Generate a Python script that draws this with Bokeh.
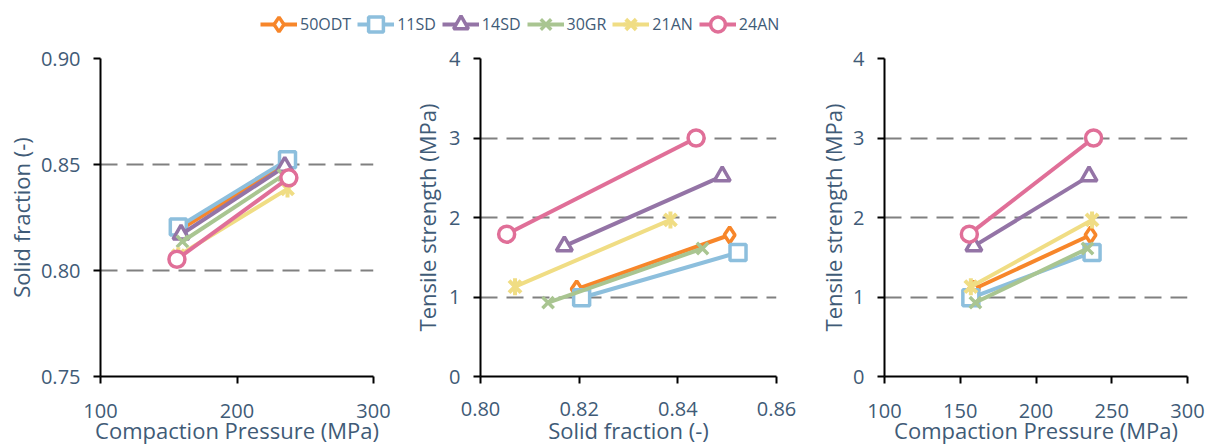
import math
from bokeh.plotting import figure
from bokeh.models import Range1d, FixedTicker, Legend, LegendItem, NumeralTickFormatter
from bokeh.layouts import column, row
from bokeh.embed import file_html
from bokeh.resources import INLINE

# ---- data ----
series = ["50ODT", "11SD", "14SD", "30GR", "21AN", "24AN"]
pressure_low = [159, 157, 159, 160, 157, 156]
pressure_high = [236, 237, 235, 234, 237, 238]
solid_low = [0.8195, 0.8205, 0.8170, 0.8137, 0.8070, 0.8053]
solid_high = [0.8505, 0.8522, 0.8490, 0.8450, 0.8385, 0.8437]
tensile_low = [1.10, 0.99, 1.64, 0.93, 1.13, 1.79]
tensile_high = [1.78, 1.56, 2.52, 1.61, 1.97, 3.00]

colors = ["#F7862A", "#8DBFDD", "#9474A6", "#A9C591", "#F0DD84", "#E06F98"]
markers = ["diamond", "square", "triangle", "x", "star", "circle"]

TEXT = "#3F5B77"
FONT = "Open Sans"


def style(p, lab_std, title_std_x, title_std_y):
    p.outline_line_color = None
    p.xgrid.visible = False
    p.ygrid.grid_line_color = "#808080"
    p.ygrid.grid_line_width = 2
    p.ygrid.grid_line_dash = "17 9"
    for ax in p.axis:
        ax.axis_line_color = "black"
        ax.axis_line_width = 2
        ax.major_tick_line_color = "black"
        ax.major_tick_line_width = 2
        ax.major_tick_out = 7
        ax.major_tick_in = 0
        ax.minor_tick_line_color = None
        ax.major_label_text_font = FONT
        ax.major_label_text_font_size = "20px"
        ax.major_label_text_color = TEXT
        ax.axis_label_text_font = FONT
        ax.axis_label_text_font_size = "22px"
        ax.axis_label_text_font_style = "normal"
        ax.axis_label_text_color = TEXT
        ax.major_label_standoff = 13
    p.xaxis.major_label_standoff = lab_std
    p.xaxis.axis_label_standoff = title_std_x
    p.yaxis.axis_label_standoff = title_std_y


def draw(p, xl, xh, yl, yh, msize=16):
    rends = []
    for i in range(len(series)):
        xs = [xl[i], xh[i]]
        ys = [yl[i], yh[i]]
        r_line = p.line(xs, ys, line_color=colors[i], line_width=4)
        group = [r_line]
        if series[i] == "21AN":
            r1 = p.scatter(xs, ys, marker="x", size=msize + 1, line_color=colors[i], line_width=4)
            r2 = p.scatter(xs, ys, marker="dash", size=msize + 1, angle=math.pi / 2,
                           line_color=colors[i], line_width=4)
            group += [r1, r2]
        else:
            r = p.scatter(xs, ys, marker=markers[i], size=msize, line_color=colors[i],
                          fill_color="white", line_width=3.5)
            group.append(r)
        rends.append(group)
    return rends


LEG_H = 44
ROW_H = 447 - LEG_H
TOP = 58 - LEG_H
BOTTOM = 447 - 378

# Panel 1: solid fraction vs pressure
p1 = figure(width=400, height=ROW_H, output_backend="svg", toolbar_location=None,
            x_range=Range1d(100, 300), y_range=Range1d(0.75, 0.90),
            min_border_left=100, min_border_right=27, min_border_top=TOP,
            min_border_bottom=BOTTOM,
            x_axis_label="Compaction Pressure (MPa)", y_axis_label="Solid fraction (-)")
p1.xaxis.ticker = FixedTicker(ticks=[100, 200, 300])
p1.yaxis.ticker = FixedTicker(ticks=[0.75, 0.80, 0.85, 0.90])
p1.yaxis.formatter = NumeralTickFormatter(format="0.00")
style(p1, 20, -6, 2)
draw(p1, pressure_low, pressure_high, solid_low, solid_high)

# Panel 2: tensile strength vs solid fraction
p2 = figure(width=400, height=ROW_H, output_backend="svg", toolbar_location=None,
            x_range=Range1d(0.80, 0.86), y_range=Range1d(0, 4),
            min_border_left=80, min_border_right=24, min_border_top=TOP,
            min_border_bottom=BOTTOM,
            x_axis_label="Solid fraction (-)", y_axis_label="Tensile strength (MPa)")
p2.xaxis.ticker = FixedTicker(ticks=[0.80, 0.82, 0.84, 0.86])
p2.xaxis.formatter = NumeralTickFormatter(format="0.00")
p2.yaxis.ticker = FixedTicker(ticks=[0, 1, 2, 3, 4])
style(p2, 18, -4, 4)
draw(p2, solid_low, solid_high, tensile_low, tensile_high)

# Panel 3: tensile strength vs pressure
p3 = figure(width=405, height=ROW_H, output_backend="svg", toolbar_location=None,
            x_range=Range1d(100, 300), y_range=Range1d(0, 4),
            min_border_left=84, min_border_right=18, min_border_top=TOP,
            min_border_bottom=BOTTOM,
            x_axis_label="Compaction Pressure (MPa)", y_axis_label="Tensile strength (MPa)")
p3.xaxis.ticker = FixedTicker(ticks=[100, 150, 200, 250, 300])
p3.yaxis.ticker = FixedTicker(ticks=[0, 1, 2, 3, 4])
style(p3, 20, -6, 2)
draw(p3, pressure_low, pressure_high, tensile_low, tensile_high)

# Legend strip
pl = figure(width=1205, height=LEG_H, output_backend="svg", toolbar_location=None,
            x_range=Range1d(0, 1), y_range=Range1d(0, 1),
            x_axis_location=None, y_axis_location=None, min_border=0)
pl.outline_line_color = None
pl.grid.visible = False
far = [10] * len(series)
lrends = draw(pl, far, far, far, far, msize=14)
items = [LegendItem(label=series[i], renderers=lrends[i]) for i in range(len(series))]
legend = Legend(items=items, orientation="horizontal", location=(260, -2),
                border_line_color=None, background_fill_alpha=0, padding=0, margin=0,
                spacing=6, label_standoff=3, glyph_width=37, glyph_height=44,
                label_text_font=FONT, label_text_font_size="16px", label_text_color=TEXT)
pl.add_layout(legend, "center")

layout = column(pl, row(column(p1), column(p2), column(p3)))
open("out.html", "w").write(file_html(layout, INLINE))
